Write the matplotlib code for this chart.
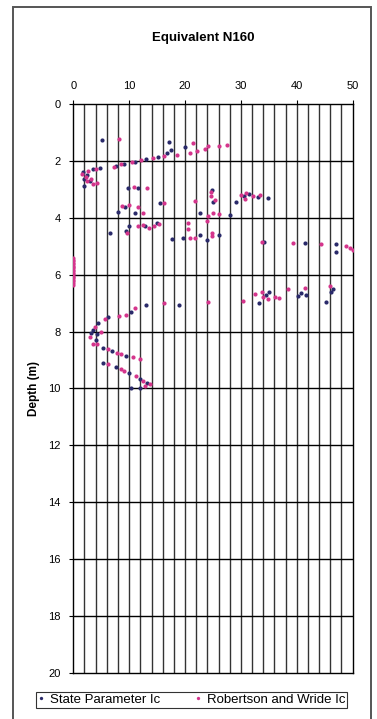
import matplotlib
matplotlib.use("Agg")
import matplotlib.pyplot as plt
from matplotlib.patches import Rectangle

plt.rcParams['font.family'] = ['Liberation Sans', 'DejaVu Sans']

# State Parameter Ic : equivalent N160 and depth (m)
sp_n160 = [5.1, 17.2, 20.0, 17.5, 16.8, 15.2, 13.0, 11.0, 9.0, 7.6,
           4.8, 3.5, 1.8, 2.4, 2.0, 3.0, 1.9,
           9.8, 11.6, 24.8, 15.5, 8.0, 11.0, 9.3, 25.0, 22.7, 28.0, 29.1,
           34.9, 31.5, 33.0, 30.5,
           10.0, 6.6, 15.0, 9.5, 17.7, 19.6, 22.7, 23.9, 26.1, 34.2, 41.5,
           47.1, 47.1, 12.8,
           33.3, 34.5, 35.0, 40.3, 40.8, 41.6, 45.3, 46.5, 46.2, 19.0,
           13.0, 10.4, 6.3, 4.5, 3.6, 4.2, 3.2, 4.0, 5.4, 7.0, 9.5, 5.4,
           7.6, 10.0, 12.0, 13.2, 11.9, 10.4]
sp_depth = [1.27, 1.33, 1.50, 1.62, 1.72, 1.85, 1.93, 2.03, 2.10, 2.18,
            2.25, 2.30, 2.38, 2.50, 2.62, 2.70, 2.87,
            2.94, 2.97, 3.02, 3.49, 3.78, 3.82, 3.62, 3.45, 3.84, 3.92, 3.44,
            3.32, 3.15, 3.28, 3.25,
            4.29, 4.52, 4.18, 4.45, 4.76, 4.72, 4.60, 4.78, 4.60, 4.84, 4.87,
            4.93, 5.22, 4.30,
            6.98, 6.72, 6.62, 6.75, 6.63, 6.70, 6.95, 6.50, 6.60, 7.05,
            7.06, 7.30, 7.50, 7.70, 7.95, 8.10, 8.05, 8.30, 8.59, 8.70, 8.85,
            9.11, 9.25, 9.45, 9.65, 9.80, 9.99, 10.00]

# Robertson and Wride Ic : equivalent N160 and depth (m)
rw_n160 = [8.2, 21.4, 24.2, 26.1, 27.6, 23.5, 22.2, 20.8, 18.5, 16.2,
           14.2, 12.2, 10.5, 8.5, 7.3,
           4.0, 2.6, 1.5, 2.2, 3.2, 2.5, 4.3, 3.6,
           10.8, 13.2, 24.7, 24.6, 25.4, 21.8, 16.3, 8.7, 10.0, 11.6, 12.5,
           25.0, 24.2, 26.0, 30.0, 31.0, 32.2, 33.4, 30.8,
           9.6, 11.6, 12.5, 13.5, 14.4, 15.3, 20.6, 23.9, 20.5, 20.8, 21.8,
           24.8, 24.8, 33.7, 39.4, 44.4, 48.8, 49.5, 50.0,
           0.0, 0.0, 0.0, 0.0, 0.0, 0.0, 0.0, 0.0, 0.0, 0.0,
           0.0, 0.0, 0.0, 0.0, 0.0, 0.0, 0.0, 0.0, 0.0,
           30.3, 32.5, 33.7, 34.0, 34.8, 36.1, 36.8, 38.5, 41.4, 45.9,
           24.2, 16.2,
           11.0, 9.5, 8.1, 5.7, 3.9, 4.9, 3.0, 3.6, 4.2, 6.2, 7.8, 8.6,
           10.6, 11.9, 6.2, 8.5, 9.1, 11.2, 12.5, 13.7, 12.8]
rw_depth = [1.24, 1.38, 1.46, 1.46, 1.45, 1.58, 1.65, 1.72, 1.78, 1.82,
            1.90, 1.97, 2.03, 2.12, 2.20,
            2.28, 2.34, 2.45, 2.55, 2.62, 2.72, 2.78, 2.82,
            2.92, 2.97, 3.10, 3.25, 3.39, 3.40, 3.47, 3.60, 3.55, 3.62, 3.82,
            3.84, 3.93, 3.88, 3.20, 3.12, 3.22, 3.20, 3.35,
            4.52, 4.30, 4.25, 4.35, 4.28, 4.22, 4.20, 4.10, 4.40, 4.72, 4.70,
            4.64, 4.54, 4.84, 4.87, 4.91, 5.00, 5.07, 5.12,
            5.42, 5.48, 5.53, 5.58, 5.63, 5.68, 5.73, 5.78, 5.83, 5.88,
            5.93, 5.98, 6.03, 6.08, 6.13, 6.18, 6.23, 6.28, 6.35,
            6.93, 6.68, 6.62, 6.78, 6.85, 6.80, 6.82, 6.52, 6.48, 6.40,
            6.95, 7.00,
            7.18, 7.42, 7.46, 7.55, 7.83, 8.00, 8.20, 8.42, 8.45, 8.62, 8.75,
            8.80, 8.90, 8.95, 9.15, 9.30, 9.38, 9.55, 9.72, 9.85, 9.90]

x_ticks = [0, 10, 20, 30, 40, 50]
y_ticks = [0, 2, 4, 6, 8, 10, 12, 14, 16, 18, 20]

fig = plt.figure(figsize=(3.77, 7.19), dpi=100)
ax = fig.add_axes([0.1944, 0.064, 0.741, 0.7914])

# grid lines every 2 units in both directions
for x in range(2, 50, 2):
    ax.axvline(x, color='#333333', lw=1.0, zorder=1)
for y in range(2, 20, 2):
    ax.axhline(y, color='black', lw=1.0, zorder=1)

ax.plot(sp_n160, sp_depth, ls='none', marker='o', ms=3.0, mew=0,
        color='#2a2a6a', label='State Parameter Ic', zorder=3)
ax.plot(rw_n160, rw_depth, ls='none', marker='o', ms=3.0, mew=0,
        color='#d4358c', label='Robertson and Wride Ic', zorder=3)

ax.set_xlim(0, 50)
ax.set_ylim(20, 0)
ax.xaxis.tick_top()
ax.set_xticks(x_ticks)
ax.set_yticks(y_ticks)
ax.tick_params(labelsize=8, length=3, width=0.8, pad=6)
for s in ax.spines.values():
    s.set_linewidth(1.0)

ax.set_ylabel('Depth (m)', fontsize=8.5, fontweight='bold', labelpad=6)
fig.text(0.54, 0.947, 'Equivalent N160', ha='center', va='center',
         fontsize=9.5, fontweight='bold')

leg = fig.legend(loc='lower left', bbox_to_anchor=(0.0955, 0.0153, 0.825, 0.025),
                 mode='expand', ncol=2, fontsize=9.5, frameon=True,
                 fancybox=False, borderpad=0.15, borderaxespad=0,
                 handlelength=0.5, handletextpad=0.4, columnspacing=0.6,
                 markerscale=0.8)
leg.get_frame().set_edgecolor('black')
leg.get_frame().set_linewidth(0.8)

# outer border of the chart
fig.add_artist(Rectangle((0.0345, -0.01), 0.95, 1.0, transform=fig.transFigure,
                         fill=False, edgecolor='#555555', lw=1.4))

fig.savefig('out.png', dpi=100)
